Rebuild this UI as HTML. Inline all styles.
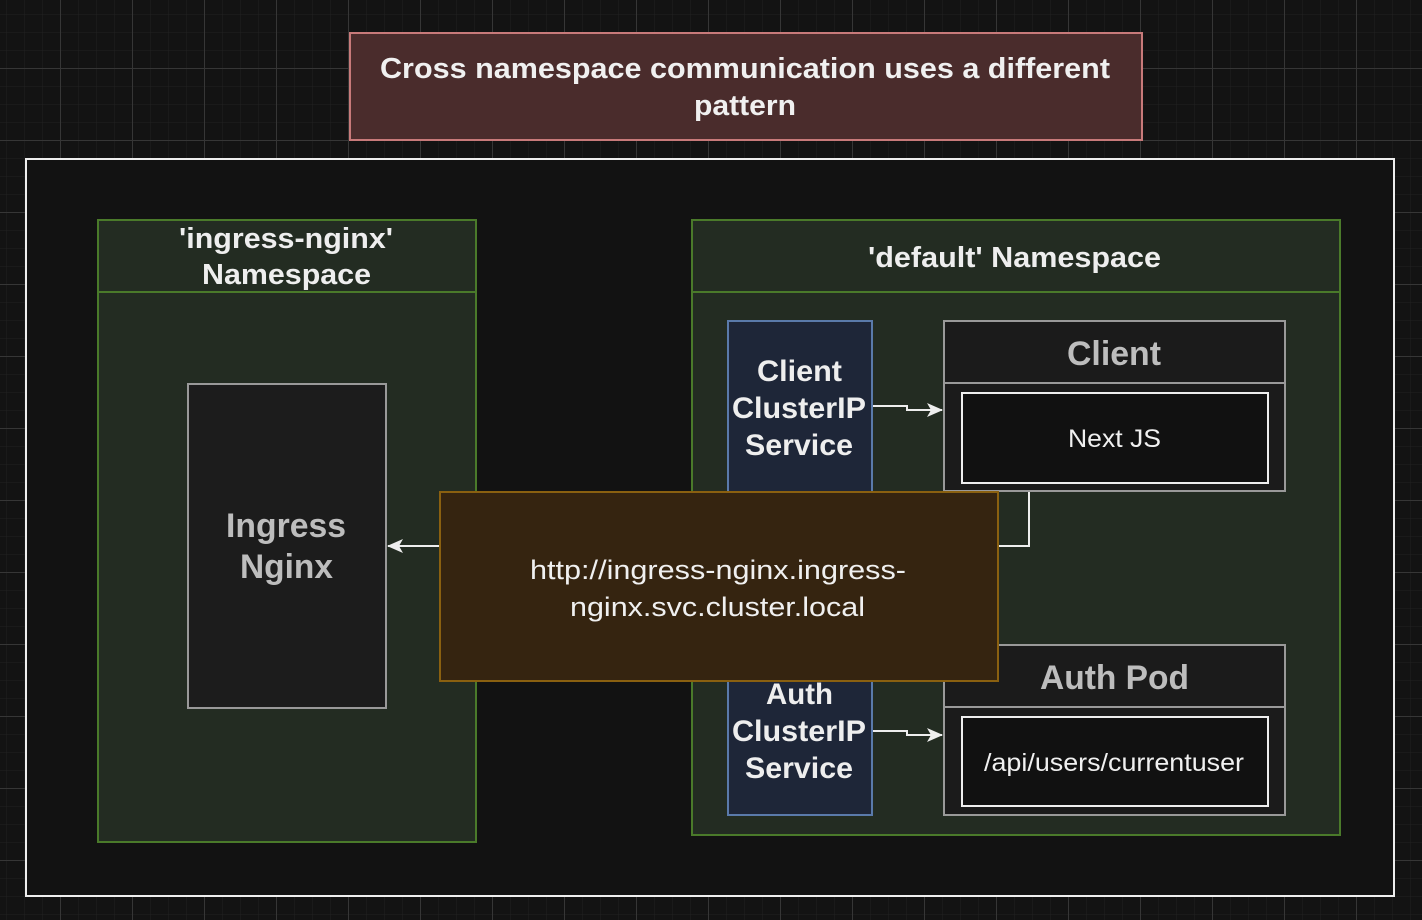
<!DOCTYPE html>
<html><head><meta charset="utf-8"><style>
html,body{margin:0;padding:0;background:#131313;}
svg{display:block;font-family:"Liberation Sans",Arial,sans-serif;}
</style></head><body>
<svg width="1422" height="920" viewBox="0 0 1422 920" xmlns="http://www.w3.org/2000/svg">
<defs>
<pattern id="minor" width="18" height="18" patternUnits="userSpaceOnUse" x="6" y="14">
<path d="M0 0H18M0 0V18" stroke="#212121" stroke-width="1" fill="none"/>
</pattern>
<pattern id="major" width="72" height="72" patternUnits="userSpaceOnUse" x="60" y="68">
<path d="M0 0.5H72M0.5 0V72" stroke="#363636" stroke-width="1" fill="none"/>
</pattern>
<marker id="ar" markerWidth="16" markerHeight="14" refX="15" refY="7" orient="auto" markerUnits="userSpaceOnUse">
<path d="M0 0L16 7L0 14L4 7Z" fill="#eee"/>
</marker>
</defs>
<rect width="1422" height="920" fill="#131313"/>
<rect width="1422" height="920" fill="url(#minor)"/>
<rect width="1422" height="920" fill="url(#major)"/>

<rect x="350" y="33" width="792" height="107" fill="#4a2c2c" stroke="#c87a7a" stroke-width="2"/>
<text x="380" y="78" font-size="29" font-weight="bold" fill="#f0f0f0" textLength="730" lengthAdjust="spacingAndGlyphs">Cross namespace communication uses a different</text>
<text x="694" y="115" font-size="29" font-weight="bold" fill="#f0f0f0" textLength="102" lengthAdjust="spacingAndGlyphs">pattern</text>

<rect x="26" y="159" width="1368" height="737" fill="#121212" stroke="#eeeeee" stroke-width="2"/>

<rect x="98" y="220" width="378" height="622" fill="#232c22" stroke="#4a7a2a" stroke-width="2"/>
<line x1="98" y1="292" x2="476" y2="292" stroke="#4a7a2a" stroke-width="2"/>
<text x="179" y="248" font-size="29" font-weight="bold" fill="#eee" textLength="214" lengthAdjust="spacingAndGlyphs">'ingress-nginx'</text>
<text x="202" y="284" font-size="29" font-weight="bold" fill="#eee" textLength="169" lengthAdjust="spacingAndGlyphs">Namespace</text>

<rect x="188" y="384" width="198" height="324" fill="#1c1c1c" stroke="#999" stroke-width="2"/>
<text x="226" y="537" font-size="34" font-weight="bold" fill="#bdbdbd" textLength="120" lengthAdjust="spacingAndGlyphs">Ingress</text>
<text x="240" y="578" font-size="34" font-weight="bold" fill="#bdbdbd" textLength="93" lengthAdjust="spacingAndGlyphs">Nginx</text>

<rect x="692" y="220" width="648" height="615" fill="#232c22" stroke="#4a7a2a" stroke-width="2"/>
<line x1="692" y1="292" x2="1340" y2="292" stroke="#4a7a2a" stroke-width="2"/>
<text x="868" y="267" font-size="29" font-weight="bold" fill="#eee" textLength="293" lengthAdjust="spacingAndGlyphs">'default' Namespace</text>

<rect x="728" y="321" width="144" height="190" fill="#1e2638" stroke="#5a7aaa" stroke-width="2"/>
<text x="757" y="381" font-size="30" font-weight="bold" fill="#eee" textLength="85" lengthAdjust="spacingAndGlyphs">Client</text>
<text x="732" y="418" font-size="30" font-weight="bold" fill="#eee" textLength="134" lengthAdjust="spacingAndGlyphs">ClusterIP</text>
<text x="745" y="455" font-size="30" font-weight="bold" fill="#eee" textLength="108" lengthAdjust="spacingAndGlyphs">Service</text>

<rect x="728" y="650" width="144" height="165" fill="#1e2638" stroke="#5a7aaa" stroke-width="2"/>

<rect x="944" y="321" width="341" height="170" fill="#1b1b1b" stroke="#999" stroke-width="2"/>
<line x1="944" y1="383" x2="1285" y2="383" stroke="#999" stroke-width="2"/>
<text x="1067" y="365" font-size="34" font-weight="bold" fill="#bdbdbd" textLength="94" lengthAdjust="spacingAndGlyphs">Client</text>
<rect x="962" y="393" width="306" height="90" fill="#111" stroke="#eee" stroke-width="2"/>
<text x="1068" y="447" font-size="25" fill="#f0f0f0" textLength="93" lengthAdjust="spacingAndGlyphs">Next JS</text>

<rect x="944" y="645" width="341" height="170" fill="#1b1b1b" stroke="#999" stroke-width="2"/>
<line x1="944" y1="707" x2="1285" y2="707" stroke="#999" stroke-width="2"/>
<text x="1040" y="689" font-size="34" font-weight="bold" fill="#bdbdbd" textLength="149" lengthAdjust="spacingAndGlyphs">Auth Pod</text>
<rect x="962" y="717" width="306" height="89" fill="#111" stroke="#eee" stroke-width="2"/>
<text x="984" y="771" font-size="25" fill="#f0f0f0" textLength="260" lengthAdjust="spacingAndGlyphs">/api/users/currentuser</text>

<polyline points="873,406 907,406 907,410 942,410" fill="none" stroke="#eee" stroke-width="2" marker-end="url(#ar)"/>
<polyline points="873,731 907,731 907,735 942,735" fill="none" stroke="#eee" stroke-width="2" marker-end="url(#ar)"/>
<polyline points="1029,492 1029,546 998,546" fill="none" stroke="#eee" stroke-width="2"/>
<line x1="440" y1="546" x2="388" y2="546" stroke="#eee" stroke-width="2" marker-end="url(#ar)"/>

<rect x="440" y="492" width="558" height="189" fill="#352410" stroke="#8a6010" stroke-width="2"/>
<text x="530" y="579" font-size="27" fill="#f0f0f0" textLength="376" lengthAdjust="spacingAndGlyphs">http://ingress-nginx.ingress-</text>
<text x="570" y="616" font-size="27" fill="#f0f0f0" textLength="295" lengthAdjust="spacingAndGlyphs">nginx.svc.cluster.local</text>

<text x="766" y="704" font-size="30" font-weight="bold" fill="#eee" textLength="67" lengthAdjust="spacingAndGlyphs">Auth</text>
<text x="732" y="741" font-size="30" font-weight="bold" fill="#eee" textLength="134" lengthAdjust="spacingAndGlyphs">ClusterIP</text>
<text x="745" y="778" font-size="30" font-weight="bold" fill="#eee" textLength="108" lengthAdjust="spacingAndGlyphs">Service</text>
</svg>
</body></html>
